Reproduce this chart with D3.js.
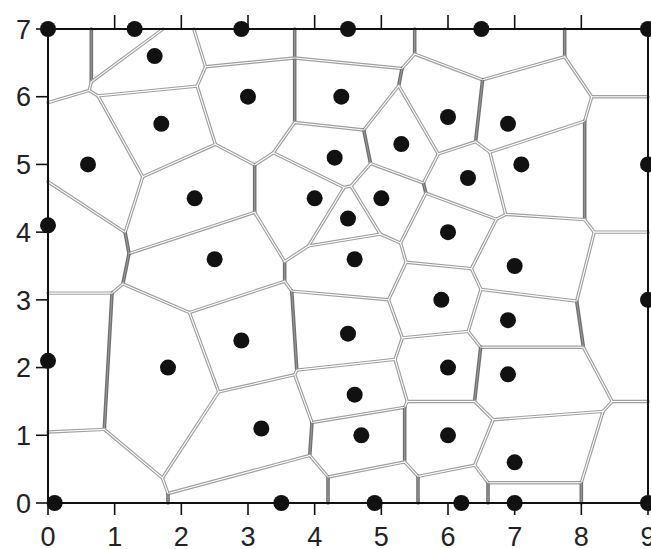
<!DOCTYPE html>
<html>
<head>
<meta charset="utf-8">
<script src="https://cdn.jsdelivr.net/npm/d3@7"></script>
<style>
  body { margin: 0; background: #fff; }
  svg { display: block; }
</style>
</head>
<body>
<svg id="chart" width="651" height="549"></svg>
<script>
// sample sites (x, y)
const siteX = [0, 1.3, 2.9, 4.5, 6.5, 9,
  1.6, 3.0, 1.7, 0.6, 2.2, 0, 2.5,
  4.4, 4.3, 5.3, 6.0, 6.9, 7.1, 9, 6.3,
  4.0, 5.0, 4.5, 6.0, 4.6, 7.0,
  9, 5.9, 6.9, 4.5, 2.9, 0, 1.8, 6.0, 6.9,
  4.6, 3.2, 4.7, 6.0, 7.0,
  0.1, 3.5, 4.9, 6.2, 7.0, 9];
const siteY = [7, 7, 7, 7, 7, 7,
  6.6, 6.0, 5.6, 5.0, 4.5, 4.1, 3.6,
  6.0, 5.1, 5.3, 5.7, 5.6, 5.0, 5.0, 4.8,
  4.5, 4.5, 4.2, 4.0, 3.6, 3.5,
  3.0, 3.0, 2.7, 2.5, 2.4, 2.1, 2.0, 2.0, 1.9,
  1.6, 1.1, 1.0, 1.0, 0.6,
  0, 0, 0, 0, 0, 0];
const xTicks = [0, 1, 2, 3, 4, 5, 6, 7, 8, 9];
const yTicks = [0, 1, 2, 3, 4, 5, 6, 7];

const svg = d3.select('#chart');
const x = d3.scaleLinear().domain([0, 9]).range([48, 648]);
const y = d3.scaleLinear().domain([0, 7]).range([503, 29]);

const pts = siteX.map((v, i) => [x(v), y(siteY[i])]);
const delaunay = d3.Delaunay.from(pts);
const vor = delaunay.voronoi([x(0), y(7), x(9), y(0)]);

// collect each voronoi edge once, so they can be styled one by one
const edges = [];
const seen = new Set();
for (let i = 0; i < pts.length; i++) {
  const poly = vor.cellPolygon(i);
  if (!poly) continue;
  for (let k = 0; k < poly.length - 1; k++) {
    const a = poly[k], b = poly[k + 1];
    const key = [a, b].map(p => p[0].toFixed(1) + ',' + p[1].toFixed(1)).sort().join('|');
    if (seen.has(key)) continue;
    seen.add(key);
    // skip the frame itself
    const onX = Math.abs(a[0] - b[0]) < 0.5 && (Math.abs(a[0] - x(0)) < 0.5 || Math.abs(a[0] - x(9)) < 0.5);
    const onY = Math.abs(a[1] - b[1]) < 0.5 && (Math.abs(a[1] - y(0)) < 0.5 || Math.abs(a[1] - y(7)) < 0.5);
    if (onX || onY) continue;
    edges.push([a, b]);
  }
}

function steep(e) {
  const dx = Math.abs(e[1][0] - e[0][0]), dy = Math.abs(e[1][1] - e[0][1]);
  return dy / (dx + dy + 1e-6);
}
const dark = e => steep(e) > 0.8;

const g = svg.append('g').attr('stroke-linecap', 'round');
// grey outer stroke
g.selectAll('line.outer').data(edges).join('line')
  .attr('class', 'outer')
  .attr('x1', d => d[0][0]).attr('y1', d => d[0][1])
  .attr('x2', d => d[1][0]).attr('y2', d => d[1][1])
  .attr('stroke', d => dark(d) ? '#707070' : '#a0a0a0')
  .attr('stroke-width', d => dark(d) ? 3.6 : 3.4);
// white core gives the double-line look on the lighter edges
g.selectAll('line.inner').data(edges).join('line')
  .attr('class', 'inner')
  .attr('x1', d => d[0][0]).attr('y1', d => d[0][1])
  .attr('x2', d => d[1][0]).attr('y2', d => d[1][1])
  .attr('stroke', d => dark(d) ? '#9a9a9a' : '#fff')
  .attr('stroke-width', d => dark(d) ? 1 : 1.1);

// frame
svg.append('rect')
  .attr('x', x(0)).attr('y', y(7))
  .attr('width', x(9) - x(0)).attr('height', y(0) - y(7))
  .attr('fill', 'none').attr('stroke', '#111').attr('stroke-width', 2);

// ticks
const ax = svg.append('g').attr('stroke', '#111').attr('stroke-width', 1.6);
ax.selectAll('.tb').data(xTicks).join('line')
  .attr('x1', d => x(d)).attr('x2', d => x(d))
  .attr('y1', y(0)).attr('y2', y(0) + 12);
ax.selectAll('.tt').data(xTicks.slice(1, -1)).join('line')
  .attr('x1', d => x(d)).attr('x2', d => x(d))
  .attr('y1', y(7)).attr('y2', y(7) - 14);
ax.selectAll('.tl').data(yTicks).join('line')
  .attr('x1', x(0) - 12).attr('x2', x(0))
  .attr('y1', d => y(d)).attr('y2', d => y(d));

const lab = svg.append('g')
  .attr('font-family', '"Liberation Sans", Arial, sans-serif')
  .attr('font-size', 27).attr('fill', '#222');
lab.selectAll('.yl').data(yTicks).join('text')
  .attr('x', 31).attr('y', d => y(d))
  .attr('dy', '0.36em').attr('text-anchor', 'end')
  .text(d => d);
lab.selectAll('.xl').data(xTicks).join('text')
  .attr('x', d => x(d)).attr('y', 546)
  .attr('text-anchor', 'middle')
  .text(d => d);

// sites
svg.append('g').selectAll('circle').data(pts).join('circle')
  .attr('cx', d => d[0]).attr('cy', d => d[1])
  .attr('r', 8).attr('fill', '#111');
</script>
</body>
</html>
